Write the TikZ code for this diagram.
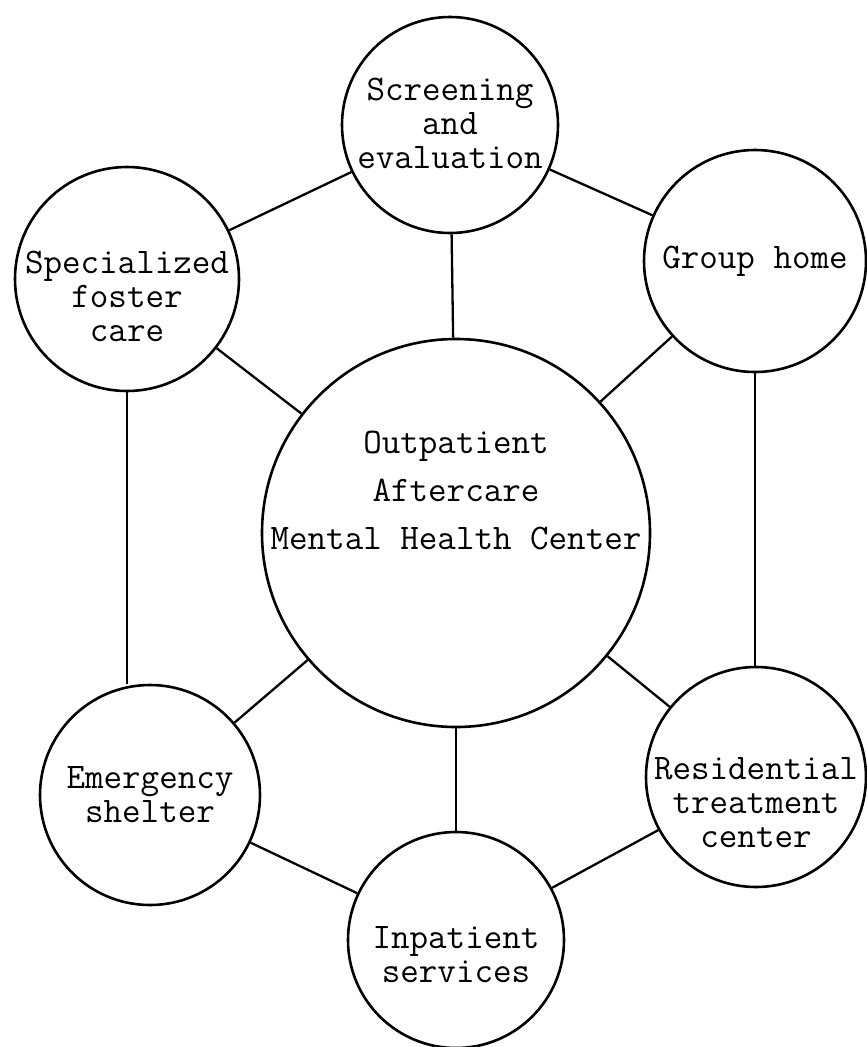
\documentclass[tikz,border=0pt]{standalone}
\usepackage{tikz}

\begin{document}
\begin{tikzpicture}[x=1pt,y=-1pt,
  service/.style={draw,circle,line width=2.6pt,inner sep=0pt},
  lbl/.style={align=center,font=\ttfamily\fontsize{36}{34}\selectfont},
  link/.style={line width=2.3pt}]
\useasboundingbox (0,0) rectangle (867,1047);
\node[service,minimum size=388pt] (centre) at (456,533) {};
\node[service,minimum size=216pt] (screen) at (450,125) {};
\node[service,minimum size=224pt] (foster) at (127,279) {};
\node[service,minimum size=222pt] (group) at (755,261) {};
\node[service,minimum size=220pt] (shelter) at (150,795) {};
\node[service,minimum size=220pt] (resid) at (756,777) {};
\node[service,minimum size=216pt] (inpat) at (456,940) {};
\node[lbl,font=\ttfamily\fontsize{36}{48}\selectfont] (centretxt) at ([yshift=43pt]centre) {Outpatient\\Aftercare\\Mental Health Center};
\node[lbl] (screentxt) at ([yshift=2pt]screen) {Screening\\and\\evaluation};
\node[lbl] (fostertxt) at ([yshift=-17pt]foster) {Specialized\\foster\\care};
\node[lbl] (grouptxt) at (group) {Group home};
\node[lbl] (sheltertxt) at (shelter) {Emergency\\shelter};
\node[lbl] (residtxt) at ([yshift=-26pt]resid) {Residential\\treatment\\center};
\node[lbl] (inpattxt) at ([yshift=-15pt]inpat) {Inpatient\\services};
% spokes
\draw[link] (screen) -- (centre);
\draw[link] (foster) -- (centre);
\draw[link] (group) -- (centre);
\draw[link] (shelter) -- (centre);
\draw[link] (resid) -- (centre);
\draw[link] (inpat) -- (centre);
% rim
\draw[link] (screen) -- (foster);
\draw[link] (screen) -- (group);
\draw[link] (foster.south) -- (foster.south |- shelter.north);
\draw[link] (group.south) -- (group.south |- resid.north);
\draw[link] (shelter) -- (inpat);
\draw[link] (resid) -- (inpat);
\end{tikzpicture}
\end{document}
